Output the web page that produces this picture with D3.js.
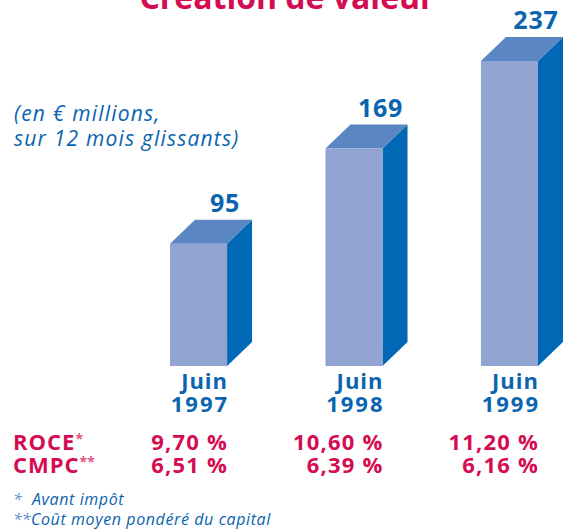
<!DOCTYPE html>
<html>
<head>
<meta charset="utf-8">
<script src="https://cdn.jsdelivr.net/npm/d3@7"></script>
<style>
  body { margin: 0; background: #fff; }
  text { font-family: "Open Sans", sans-serif; }
</style>
</head>
<body>
<div id="chart"></div>
<script>
// chart data
let years = ["1997", "1998", "1999"];
let values = [95, 169, 237];
let roce = ["9,70 %", "10,60 %", "11,20 %"];
let cmpc = ["6,51 %", "6,39 %", "6,16 %"];

let width = 568, height = 530;

let svg = d3.select("#chart").append("svg")
    .attr("width", width)
    .attr("height", height);

// colours
let red = "#d40c52";
let blue = "#0a64ae";
let frontColor = "#91a4d2", topColor = "#5b86c4", sideColor = "#0068b4";

// depth of the 3d effect
let dx = 25, dy = 24;

// scales
let x = d3.scaleBand()
    .domain(years)
    .range([170, 538])
    .paddingInner(0.633)
    .paddingOuter(0);

let y = d3.scaleLinear()
    .domain([0, 237])
    .range([366, 61]);

// title (cut at the top of the picture)
svg.append("text")
    .attr("x", 287)
    .attr("y", 9)
    .attr("text-anchor", "middle")
    .style("font-size", "32px")
    .style("font-weight", 700)
    .style("fill", red)
    .text("Création de valeur");

// unit note
let note = svg.append("text")
    .style("font-size", "21px")
    .style("font-style", "italic")
    .style("letter-spacing", "1.2px")
    .style("fill", blue);
note.append("tspan").attr("x", 14).attr("y", 121).text("(en € millions,");
note.append("tspan").attr("x", 14).attr("y", 146).text("sur 12 mois glissants)");

// bars
let bars = svg.selectAll(".bar")
    .data(years)
    .enter().append("g")
    .attr("class", "bar");

bars.append("path")
    .attr("d", (d, i) => {
        let x0 = x(d) + x.bandwidth(), y0 = y(values[i]), y1 = y(0);
        return `M${x0},${y0}L${x0 + dx},${y0 - dy}L${x0 + dx},${y1 - dy}L${x0},${y1}Z`;
    })
    .style("fill", sideColor);

bars.append("path")
    .attr("d", (d, i) => {
        let x0 = x(d), x1 = x(d) + x.bandwidth(), y0 = y(values[i]);
        return `M${x0},${y0}L${x0 + dx},${y0 - dy}L${x1 + dx},${y0 - dy}L${x1},${y0}Z`;
    })
    .style("fill", topColor);

bars.append("rect")
    .attr("x", d => x(d))
    .attr("y", (d, i) => y(values[i]))
    .attr("width", x.bandwidth())
    .attr("height", (d, i) => y(0) - y(values[i]))
    .style("fill", frontColor);

// value labels
bars.append("text")
    .attr("x", d => x(d) + x.bandwidth() - 2)
    .attr("y", (d, i) => y(values[i]) - dy - 8)
    .attr("text-anchor", "middle")
    .style("font-size", "25px")
    .style("font-weight", 700)
    .style("letter-spacing", "0.8px")
    .style("fill", blue)
    .text((d, i) => values[i]);

// category labels
bars.append("text")
    .attr("x", d => x(d) + x.bandwidth() + 1)
    .attr("y", 389)
    .attr("text-anchor", "end")
    .style("font-size", "22px")
    .style("font-weight", 700)
    .style("letter-spacing", "1px")
    .style("fill", blue)
    .text("Juin");

bars.append("text")
    .attr("x", d => x(d) + x.bandwidth() + 2)
    .attr("y", 412)
    .attr("text-anchor", "end")
    .style("font-size", "22px")
    .style("font-weight", 700)
    .style("letter-spacing", "2px")
    .style("fill", blue)
    .text(d => d);

// table of ratios
let rows = [["ROCE", "*", roce, 450], ["CMPC", "**", cmpc, 473]];
rows.forEach(r => {
    let lab = svg.append("text")
        .attr("x", 13)
        .attr("y", r[3])
        .style("font-size", "22px")
        .style("font-weight", 700)
        .style("letter-spacing", "1px")
        .style("fill", red);
    lab.append("tspan").text(r[0]);
    lab.append("tspan")
        .attr("dy", -6)
        .style("font-size", "14px")
        .style("letter-spacing", "0px")
        .style("fill", "#e0587f")
        .text(r[1]);

    svg.selectAll(null)
        .data(years)
        .enter().append("text")
        .attr("x", d => x(d) + x.bandwidth() + 1)
        .attr("y", r[3])
        .attr("text-anchor", "end")
        .style("font-size", "22px")
        .style("font-weight", 700)
        .style("letter-spacing", "1.2px")
        .style("fill", red)
        .text((d, i) => r[2][i]);
});

// footnotes
let foot = [["*", "Avant impôt", 505, 32], ["**", "Coût moyen pondéré du capital", 525, 31]];
foot.forEach(f => {
    let t = svg.append("text")
        .attr("y", f[2])
        .style("font-size", "16px")
        .style("font-style", "italic")
        .style("fill", blue);
    t.append("tspan").attr("x", 13).style("fill", "#5b8fd0").text(f[0]);
    t.append("tspan").attr("x", f[3]).style("letter-spacing", "0.6px").text(f[1]);
});
</script>
</body>
</html>
